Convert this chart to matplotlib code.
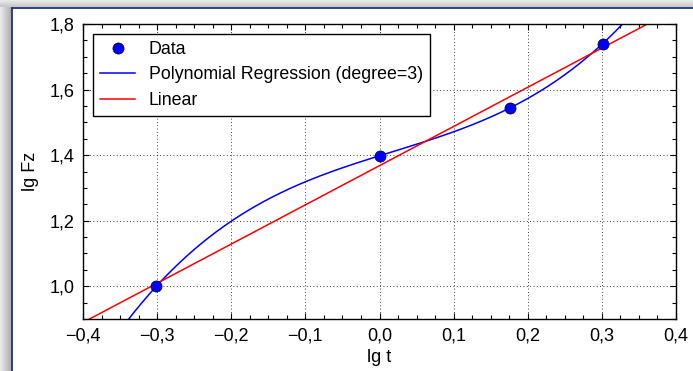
import numpy as np
import matplotlib
matplotlib.use('Agg')
import matplotlib.pyplot as plt
from matplotlib.ticker import MultipleLocator, AutoMinorLocator, FuncFormatter

# data (lg t, lg Fz)
lg_t = [-0.301, 0.0, 0.176, 0.301]
lg_fz = [1.0, 1.398, 1.544, 1.740]

x_lim = (-0.4, 0.4)
y_lim = (0.9, 1.8)

plt.rcParams['font.family'] = ['Liberation Sans', 'DejaVu Sans']
plt.rcParams['font.size'] = 13


def comma_fmt(v, pos):
    return f"{v:.1f}".replace('.', ',').replace('-', '\u2212')


fig = plt.figure(figsize=(6.93, 3.71), dpi=100)
fig.patch.set_facecolor('white')

W, H = 693.0, 371.0

# window frame: shadow strips + navy border
left_strip = fig.add_axes([0, 0, 12 / W, 1])
left_strip.imshow(np.linspace(0.93, 0.66, 64).reshape(1, -1), cmap='gray', vmin=0, vmax=1,
                  aspect='auto', extent=(0, 1, 0, 1))
left_strip.axis('off')
top_strip = fig.add_axes([0, 1 - 7 / H, 1, 7 / H])
top_strip.imshow(np.linspace(0.92, 0.78, 16).reshape(-1, 1), cmap='gray', vmin=0, vmax=1,
                 aspect='auto', extent=(0, 1, 0, 1))
top_strip.axis('off')
navy = '#1b3673'
fig.add_artist(plt.Line2D([12.5 / W, 12.5 / W], [0, 1 - 7.5 / H], color=navy, lw=1.3,
                          transform=fig.transFigure))
fig.add_artist(plt.Line2D([12.5 / W, 1], [1 - 7.5 / H, 1 - 7.5 / H], color=navy, lw=1.3,
                          transform=fig.transFigure))

ax = fig.add_axes([83 / W, 1 - 319 / H, (676 - 83) / W, (319 - 24) / H])

x = np.array(lg_t)
y = np.array(lg_fz)
xs = np.linspace(x_lim[0], x_lim[1], 400)

poly = np.polyfit(x, y, 3)
lin = np.polyfit(x, y, 1)

ax.plot(x, y, 'o', color='#0000ff', markersize=8, markeredgecolor='#000033',
        markeredgewidth=0.5, label='Data', zorder=4)
ax.plot(xs, np.polyval(poly, xs), color='#0000ff', lw=1.1,
        label='Polynomial Regression (degree=3)')
ax.plot(xs, np.polyval(lin, xs), color='#ff0000', lw=1.1, label='Linear')

ax.set_xlim(*x_lim)
ax.set_ylim(*y_lim)
ax.xaxis.set_major_locator(MultipleLocator(0.1))
ax.yaxis.set_major_locator(MultipleLocator(0.2))
ax.xaxis.set_minor_locator(AutoMinorLocator(4))
ax.yaxis.set_minor_locator(AutoMinorLocator(4))
ax.xaxis.set_major_formatter(FuncFormatter(comma_fmt))
ax.yaxis.set_major_formatter(FuncFormatter(comma_fmt))

ax.tick_params(which='both', direction='in', top=True, right=True, colors='black')
ax.tick_params(which='major', length=4.5, width=0.8, pad=6, labelsize=13)
ax.tick_params(which='minor', length=3, width=0.8)
for s in ax.spines.values():
    s.set_linewidth(1.0)
    s.set_color('black')

ax.grid(True, which='major', linestyle=(0, (1, 3)), color='black', lw=0.6)

ax.set_xlabel('lg t', fontsize=13, labelpad=3)
ax.set_ylabel('lg Fz', fontsize=13, labelpad=8)

leg = ax.legend(loc='upper left', numpoints=1, fancybox=False, framealpha=1,
                edgecolor='black', fontsize=12.8, handlelength=2.0, borderaxespad=0.55,
                labelspacing=0.48, borderpad=0.4, handletextpad=0.75)
leg.get_frame().set_linewidth(1.0)

fig.savefig('out.png', dpi=100)
